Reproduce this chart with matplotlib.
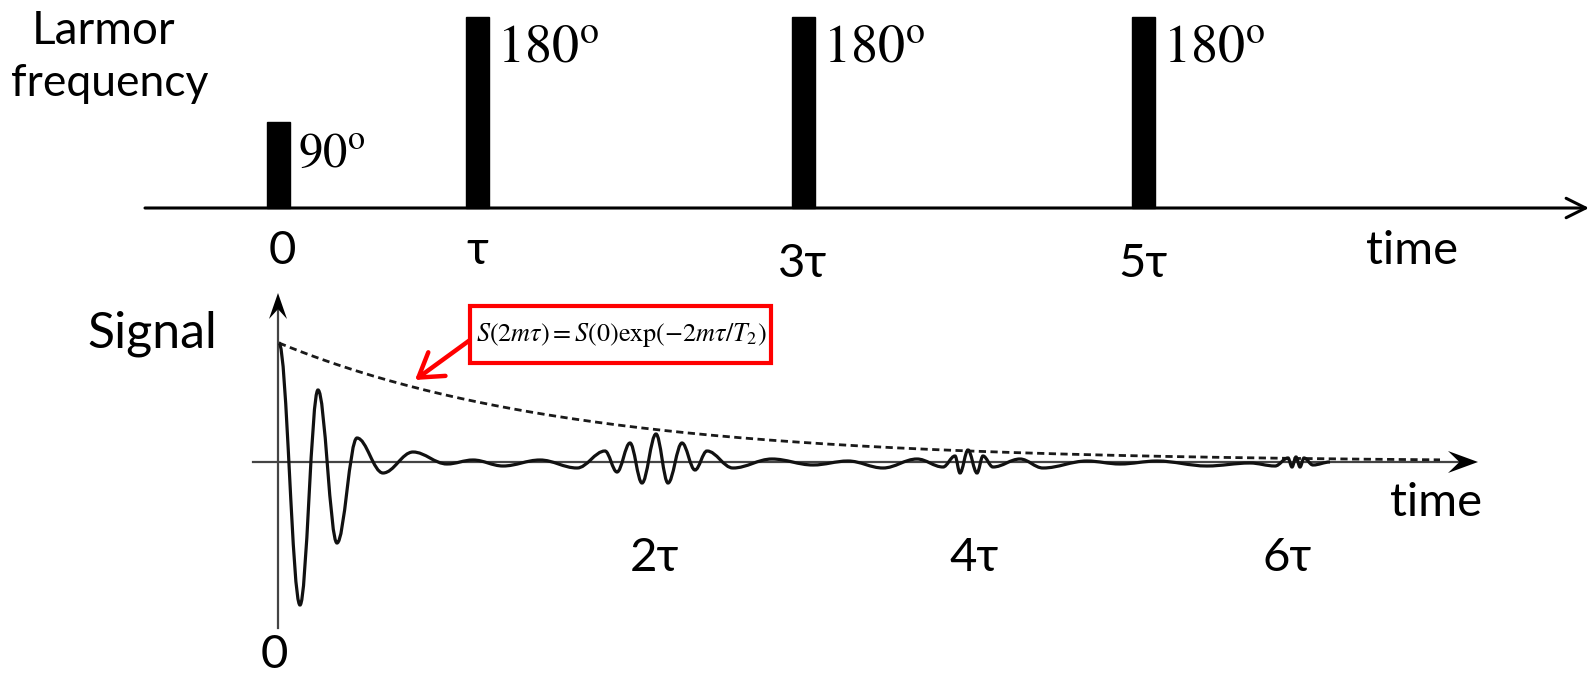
import matplotlib.pyplot as plt
from matplotlib.path import Path
from matplotlib.patches import PathPatch, Rectangle

plt.rcParams['mathtext.fontset'] = 'stix'

W, H = 1591, 677

# pulse train: x position, top of bar, flip angle, time label
pulse_x = [278, 477, 803, 1143]
pulse_top = [122, 17, 17, 17]
pulse_angle = ['90', '180', '180', '180']
pulse_tick = ['0', 'τ', '3τ', '5τ']

# echo centres on the signal axis
echo_x = [654, 974, 1287]
echo_tick = ['2τ', '4τ', '6τ']

# turning points of the signal trace (x, amplitude)
sig_x = [279, 300, 318, 337, 357, 383, 413, 447, 473, 503, 540, 577,
         605, 617, 630, 642, 656, 668, 682, 695, 707, 733,
         772, 813, 848, 883, 917, 943,
         955, 960, 968, 977, 983, 993,
         1020, 1043, 1087, 1120, 1157, 1207, 1250, 1275,
         1288, 1292, 1296, 1300, 1304, 1313, 1330]
sig_amp = [119, -143, 72, -81, 24, -11, 10, -2, 2, -4, 2, -6,
           11, -10, 19, -21, 28, -21, 19, -8, 11, -6,
           3, -3, 1, -6, 3, -5,
           6, -11, 12, -11, 6, -5,
           3, -6, 1, -2, 1, -4, -1, -4,
           4, -5, 5, -5, 4, -3, 0]

# T2 envelope S(0) exp(-t/T2)
S0 = 119
T2 = 290

top_y = 208      # pulse time axis
base_y = 462     # signal zero line

lab_font = ['Lato', 'Noto Sans', 'DejaVu Sans']

fig = plt.figure(figsize=(W / 100, H / 100), dpi=100)
ax = fig.add_axes([0, 0, 1, 1])
ax.set_xlim(0, W)
ax.set_ylim(H, 0)
ax.axis('off')

# second axes for the signal, amplitude measured upward from the zero line
sig = fig.add_axes([0, 0, 1, 1])
sig.set_xlim(0, W)
sig.set_ylim(base_y - H, base_y)
sig.axis('off')


def stealth(tip, d, length, half):
    tx, ty = tip
    dx, dy = d
    px, py = -dy, dx
    pts = [(tx, ty),
           (tx - length * dx + half * px, ty - length * dy + half * py),
           (tx - 0.62 * length * dx, ty - 0.62 * length * dy),
           (tx - length * dx - half * px, ty - length * dy - half * py)]
    ax.fill([p[0] for p in pts], [p[1] for p in pts], color='k', lw=0, zorder=5)


# ---- pulse sequence ----
ax.annotate('', xy=(1589, top_y), xytext=(145, top_y),
            arrowprops=dict(arrowstyle='->,head_length=0.7,head_width=0.35',
                            lw=2.2, color='k', mutation_scale=20,
                            shrinkA=0, shrinkB=0))
for x, top, ang, tick in zip(pulse_x, pulse_top, pulse_angle, pulse_tick):
    ax.add_patch(Rectangle((x - 11.5, top), 23, top_y - top, color='k', zorder=3))
    size = 35 if ang == '90' else 39
    ax.text(x + 20, top + 45, r'$\mathrm{%s}^{\mathrm{o}}$' % ang,
            fontsize=size, ha='left', va='baseline')
    ty = 251 if tick in ('0', 'τ') else 264
    ax.text(x + (4 if tick == '0' else 0), ty, tick, fontsize=34, family=lab_font,
            ha='center', va='center')
ax.text(1412, 251, 'time', fontsize=34, family=lab_font, ha='center', va='center')
ax.text(104, 31, 'Larmor', fontsize=33, family=lab_font, ha='center', va='center')
ax.text(110, 84, 'frequency', fontsize=32, family=lab_font, ha='center', va='center')

# ---- signal axes ----
ax.plot([278, 278], [628, 305], color='#444444', lw=1.6)
stealth((278, 293), (0, -1), 26, 9)
ax.plot([253, 1460], [base_y, base_y], color='#444444', lw=1.6)
stealth((1478, base_y), (1, 0), 30, 11)

ax.text(152, 334, 'Signal', fontsize=36, family=lab_font, ha='center', va='center')
ax.text(274, 655, '0', fontsize=34, family=lab_font, ha='center', va='center')
ax.text(1436, 503, 'time', fontsize=34, family=lab_font, ha='center', va='center')
for x, tick in zip(echo_x, echo_tick):
    ax.text(x, 558, tick, fontsize=34, family=lab_font, ha='center', va='center')

# envelope
n = 200
env_x = [279 + (1440 - 279) * i / (n - 1) for i in range(n)]
env_y = [S0 * 2.718281828 ** (-(x - 279) / T2) for x in env_x]
sig.plot(env_x, env_y, color='#1a1a1a', lw=2.0, dashes=(2.6, 1.6))

# signal trace: cosine-like Bezier arcs between turning points
verts = [(sig_x[0], sig_amp[0])]
codes = [Path.MOVETO]
k = 0.363
for (x0, y0, x1, y1) in zip(sig_x[:-1], sig_amp[:-1], sig_x[1:], sig_amp[1:]):
    d = x1 - x0
    verts += [(x0 + k * d, y0), (x1 - k * d, y1), (x1, y1)]
    codes += [Path.CURVE4] * 3
sig.add_patch(PathPatch(Path(verts, codes), fill=False, lw=2.3, ec='#111111', zorder=4))

# formula box with pointer to the envelope
ax.add_patch(Rectangle((470, 306), 301, 57, fc='white', ec='#ff0000', lw=3, zorder=6))
formula = r'$S(2m\tau) = S(0)\exp(-2m\tau/T_2)$'
ax.text(621, 335, formula, fontsize=18.8, ha='center', va='center', zorder=7)
ax.annotate('', xy=(415, 380), xytext=(470, 340),
            arrowprops=dict(arrowstyle='->,head_length=0.55,head_width=0.35',
                            lw=3.2, color='#ff0000', mutation_scale=30,
                            shrinkA=0, shrinkB=0))

fig.savefig('out.png', dpi=100)
